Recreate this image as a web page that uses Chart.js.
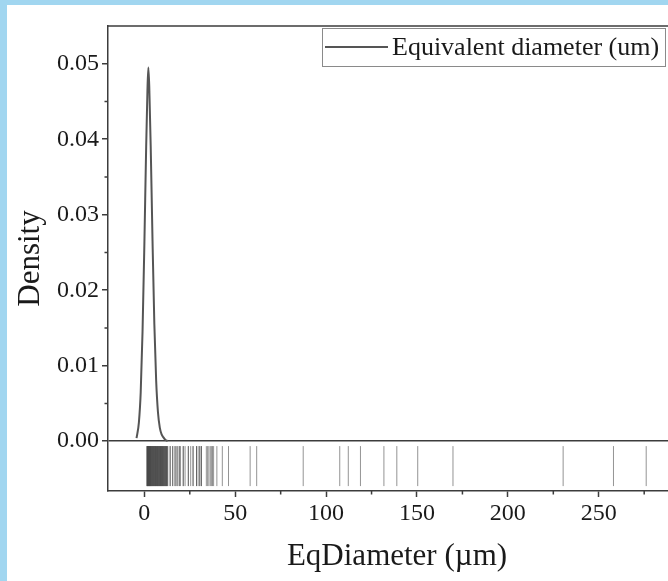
<!DOCTYPE html>
<html>
<head>
<meta charset="utf-8">
<script src="https://cdn.jsdelivr.net/npm/chart.js@4"></script>
<style>
  html, body { margin: 0; padding: 0; overflow: hidden; background: #a1d6f0; width: 668px; height: 581px; }
  #wrap { position: absolute; left: 7px; top: 5px; width: 700px; height: 576px; background: #fff; }
</style>
</head>
<body>
<div id="wrap"><canvas id="kdeChart" width="700" height="576"></canvas></div>
<script>
// KDE curve
const curveX = [-4.3, -3, -2, -1, 0, 1, 1.7, 2.2, 2.7, 3.5, 4.5, 5.5, 6.5, 7.5, 8.5, 9.5, 10.5, 11.5, 12.8];
const curveY = [0.0004, 0.0025, 0.0065, 0.0145, 0.026, 0.039, 0.0465, 0.0495, 0.047, 0.039, 0.0265, 0.0155, 0.008, 0.0038, 0.0018, 0.0009, 0.0005, 0.0002, 0.0];

// rug values (um)
const rugValues = [
  1.4, 1.5, 1.6, 1.8, 1.9, 2.0, 2.1, 2.3, 2.4, 2.6, 2.7, 2.8, 3.0, 3.1, 3.3, 3.4, 3.6, 3.7, 3.9, 4.1,
  4.2, 4.4, 4.6, 4.7, 4.9, 5.1, 5.2, 5.4, 5.6, 5.7, 6.0, 6.1, 6.2, 6.5, 6.6, 6.8, 7.0, 7.1, 7.3, 7.5,
  7.6, 7.9, 8.0, 8.1, 8.4, 8.5, 8.7, 8.9, 9.0, 9.2, 9.4, 9.5, 9.8, 9.9, 10.1, 10.3, 10.4, 10.6, 10.9, 11.0,
  11.2, 11.5, 11.6, 11.8, 12.1, 12.2, 12.4, 12.7, 12.9,
  14.2, 14.2, 15.6, 15.6, 16.9, 16.9, 18.0, 18.0, 19.2, 19.2, 19.9, 21.4, 21.4, 22.4, 24.2, 24.2, 25.5,
  26.8, 26.8, 28.7, 28.7, 29.6, 30.5, 30.5, 31.4, 31.4, 34.1, 34.8, 35.5, 36.3, 37.0, 37.5, 38.1, 39.9,
  42.9, 46.3, 58.2, 61.8, 87.4, 107.5, 112.2, 118.9, 131.8, 138.9, 150.4, 169.8, 230.4, 258.1, 276.1
];
const rugLevel = -0.0033;

const xTicks = [0, 50, 100, 150, 200, 250];
const xMinorTicks = [25, 75, 125, 175, 225, 275];
const yTicks = [0, 0.01, 0.02, 0.03, 0.04, 0.05];
const yMinorTicks = [0.005, 0.015, 0.025, 0.035, 0.045];

const FRAME = '#3c3c3c';
const SERIF = "'Liberation Serif', 'DejaVu Serif', serif";

// top frame line, minor ticks and the legend box
const framePlugin = {
  id: 'frame',
  afterDraw(chart) {
    const { ctx, chartArea: a, scales: { x, y } } = chart;
    ctx.save();
    ctx.strokeStyle = FRAME;
    ctx.lineWidth = 1.5;
    ctx.beginPath();
    ctx.moveTo(a.left, a.top);
    ctx.lineTo(a.right, a.top);
    xMinorTicks.forEach(v => {
      const px = x.getPixelForValue(v);
      ctx.moveTo(px, a.bottom);
      ctx.lineTo(px, a.bottom + 3.5);
    });
    yMinorTicks.forEach(v => {
      const py = y.getPixelForValue(v);
      ctx.moveTo(a.left, py);
      ctx.lineTo(a.left - 3.5, py);
    });
    ctx.stroke();

    // legend
    const ds = chart.data.datasets[0];
    const box = { left: 315, top: 23, right: 658, bottom: 61 };
    ctx.strokeStyle = '#8a8a8a';
    ctx.lineWidth = 1;
    ctx.strokeRect(box.left + 0.5, box.top + 0.5, box.right - box.left, box.bottom - box.top);
    const my = (box.top + box.bottom) / 2;
    ctx.strokeStyle = ds.borderColor;
    ctx.lineWidth = 2;
    ctx.beginPath();
    ctx.moveTo(box.left + 3, my);
    ctx.lineTo(box.left + 66, my);
    ctx.stroke();
    ctx.fillStyle = '#1a1a1a';
    ctx.font = '26px ' + SERIF;
    ctx.textBaseline = 'middle';
    ctx.fillText(ds.label, box.left + 70, my + 1);
    ctx.restore();
  }
};

new Chart(document.getElementById('kdeChart'), {
  type: 'line',
  data: {
    datasets: [{
      label: 'Equivalent diameter (um)',
      data: curveX.map((v, i) => ({ x: v, y: curveY[i] })),
      borderColor: '#555555',
      borderWidth: 2,
      pointRadius: 0,
      cubicInterpolationMode: 'monotone',
      fill: false
    }, {
      type: 'scatter',
      label: 'rug',
      data: rugValues.map(v => ({ x: v, y: rugLevel })),
      showLine: false,
      pointStyle: 'line',
      pointRotation: 90,
      pointRadius: 20,
      pointBorderWidth: 1,
      pointBorderColor: 'rgba(60,60,60,0.55)',
      pointBackgroundColor: 'rgba(60,60,60,0.55)'
    }]
  },
  options: {
    responsive: false,
    animation: false,
    events: [],
    layout: { padding: { top: 18, right: 0, left: 0, bottom: 0 } },
    plugins: { legend: { display: false }, tooltip: { enabled: false } },
    scales: {
      x: {
        type: 'linear',
        min: -20,
        max: 298,
        afterBuildTicks: s => { s.ticks = xTicks.map(v => ({ value: v })); },
        afterFit: s => { s.height = 90; },
        border: { display: true, color: FRAME, width: 1.5 },
        grid: { drawOnChartArea: false, tickLength: 6, tickColor: FRAME, tickWidth: 1.5 },
        ticks: { color: '#1a1a1a', font: { family: SERIF, size: 24 }, padding: 2, maxRotation: 0, autoSkip: false },
        title: { display: true, text: 'EqDiameter (µm)', color: '#1a1a1a', font: { family: SERIF, size: 31 }, padding: { top: 0, bottom: 6 } }
      },
      y: {
        min: -0.0066,
        max: 0.055,
        afterBuildTicks: s => { s.ticks = yTicks.map(v => ({ value: v })); },
        afterFit: s => { s.width = 101; },
        border: { display: true, color: FRAME, width: 1.5 },
        grid: {
          drawOnChartArea: true,
          color: c => (c.tick && c.tick.value === 0 ? FRAME : 'rgba(0,0,0,0)'),
          lineWidth: 1.5,
          tickLength: 6,
          tickColor: FRAME,
          tickWidth: 1.5
        },
        ticks: { color: '#1a1a1a', font: { family: SERIF, size: 24 }, padding: 3, callback: v => v.toFixed(2) },
        title: { display: true, text: 'Density', color: '#1a1a1a', font: { family: SERIF, size: 31 }, padding: { top: 5, bottom: 0 } }
      }
    }
  },
  plugins: [framePlugin]
});
</script>
</body>
</html>
